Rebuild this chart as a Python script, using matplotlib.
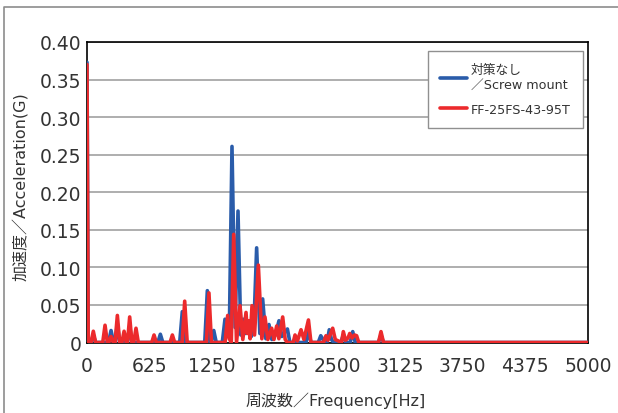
import matplotlib
matplotlib.use("Agg")
import matplotlib.pyplot as plt
from matplotlib.lines import Line2D

plt.rcParams['font.family'] = ['DejaVu Sans', 'Noto Sans CJK JP']

# spectrum without countermeasure (screw mount)
blue_freq = [0, 12, 40, 63, 86, 215, 240, 265, 280, 303, 326, 403, 426, 449, 707, 732, 757,
             925, 951, 977, 1175, 1201, 1227, 1240, 1265, 1290, 1350, 1377, 1395, 1420, 1447, 1478,
             1507, 1535, 1560, 1585, 1610, 1640, 1665, 1693, 1725, 1753, 1785, 1816, 1845, 1880,
             1916, 1945, 1965, 2000, 2025, 2185, 2210, 2235, 2308, 2333, 2360, 2395, 2418, 2440,
             2462, 2533, 2558, 2583, 2627, 2652, 2677, 2909, 2934, 2959, 5000]
blue_acc = [0.373, 0, 0, 0.010, 0, 0, 0.016, 0, 0, 0.025, 0, 0, 0.022, 0, 0, 0.011, 0,
            0, 0.041, 0, 0, 0.069, 0, 0, 0.016, 0, 0, 0.031, 0.008, 0.01, 0.261, 0.02,
            0.175, 0.01, 0.031, 0.012, 0.025, 0.008, 0.02, 0.126, 0.012, 0.058, 0.005, 0.024, 0.004, 0.01,
            0.029, 0.008, 0.012, 0.018, 0, 0, 0.015, 0, 0, 0.009, 0.003, 0, 0.017, 0.004,
            0, 0, 0.01, 0, 0, 0.0145, 0, 0, 0.01, 0, 0]

# spectrum with FF-25FS-43-95T
red_freq = [0, 12, 40, 63, 86, 157, 180, 203, 217, 240, 263, 280, 303, 326, 348, 370, 392,
            404, 426, 448, 466, 489, 512, 646, 669, 692, 829, 852, 875, 950, 975, 1000,
            1192, 1217, 1242, 1378, 1404, 1420, 1440, 1464, 1492, 1527, 1555, 1587, 1600, 1612,
            1628, 1647, 1672, 1710, 1745, 1776, 1805, 1843, 1866, 1893, 1915, 1953, 1978, 2000,
            2058, 2076, 2100, 2136, 2165, 2210, 2235, 2360, 2385, 2405, 2452, 2478, 2540, 2558,
            2580, 2605, 2622, 2645, 2670, 2691, 2712, 2909, 2934, 2959, 5000]
red_acc = [0.370, 0, 0, 0.015, 0, 0, 0.023, 0, 0, 0.008, 0, 0, 0.036, 0, 0, 0.015, 0,
           0, 0.034, 0, 0, 0.019, 0, 0, 0.010, 0, 0, 0.010, 0, 0, 0.055, 0,
           0, 0.066, 0, 0, 0.036, 0.005, 0, 0.144, 0, 0.049, 0.004, 0.040, 0.012, 0.029,
           0.005, 0.049, 0.01, 0.103, 0.005, 0.034, 0.004, 0.019, 0.004, 0.022, 0.005, 0.034, 0.004, 0,
           0, 0.010, 0.002, 0.017, 0.004, 0.030, 0, 0, 0.009, 0.003, 0.019, 0.004, 0, 0.0145,
           0.003, 0.006, 0.012, 0.006, 0.01, 0.009, 0, 0, 0.0145, 0, 0]

x_ticks = [0, 625, 1250, 1875, 2500, 3125, 3750, 4375, 5000]
y_ticks = [0, 0.05, 0.10, 0.15, 0.20, 0.25, 0.30, 0.35, 0.40]
y_tick_labels = ["0", "0.05", "0.10", "0.15", "0.20", "0.25", "0.30", "0.35", "0.40"]

W, H = 618, 414
fig = plt.figure(figsize=(W / 100, H / 100), dpi=100)
ax = fig.add_axes([87 / W, (H - 343.5) / H, 501 / W, 300.5 / H])

ax.plot(blue_freq, blue_acc, color="#2a5caa", lw=2.6, solid_joinstyle="round",
        solid_capstyle="round", label="対策なし\n／Screw mount", zorder=3)
ax.plot(red_freq, red_acc, color="#ec2a2c", lw=2.6, solid_joinstyle="round",
        solid_capstyle="round", label="FF-25FS-43-95T", zorder=4)

ax.set_xlim(0, 5000)
ax.set_ylim(0, 0.4)
ax.set_xticks(x_ticks)
ax.set_xticklabels([str(t) for t in x_ticks])
ax.set_yticks(y_ticks)
ax.set_yticklabels(y_tick_labels)
ax.tick_params(axis="both", length=0, labelsize=13.5, colors="#333333")
ax.tick_params(axis="x", pad=10)
ax.tick_params(axis="y", pad=4)
ax.yaxis.grid(True, color="#a8a8a8", lw=1.3)
ax.set_axisbelow(True)
for s in ax.spines.values():
    s.set_color("black")
    s.set_linewidth(1.2)

fig.text(21 / W, 1 - 187 / H, "加速度／Acceleration(G)", rotation=90, ha="center", va="center",
         fontsize=11.5, color="#333333")
fig.text(335.5 / W, 1 - 401 / H, "周波数／Frequency[Hz]", ha="center", va="center",
         fontsize=11.5, color="#333333")

leg = ax.legend(loc="upper right", bbox_to_anchor=(583 / W, 1 - 52 / H), bbox_transform=fig.transFigure,
                fontsize=9.2, frameon=True, fancybox=False, edgecolor="#909090", framealpha=1,
                handlelength=2.1, handletextpad=0.35, borderpad=0.95, labelspacing=0.9, borderaxespad=0)
leg.get_frame().set_linewidth(1.0)
for t in leg.get_texts():
    t.set_color("#333333")

# outer frame of the figure panel
fig.add_artist(Line2D([4 / W, 4 / W, 1], [0, 1 - 8 / H, 1 - 8 / H], transform=fig.transFigure,
                      color="#8c8c8c", lw=1.2))

fig.savefig("out.png", dpi=100)
